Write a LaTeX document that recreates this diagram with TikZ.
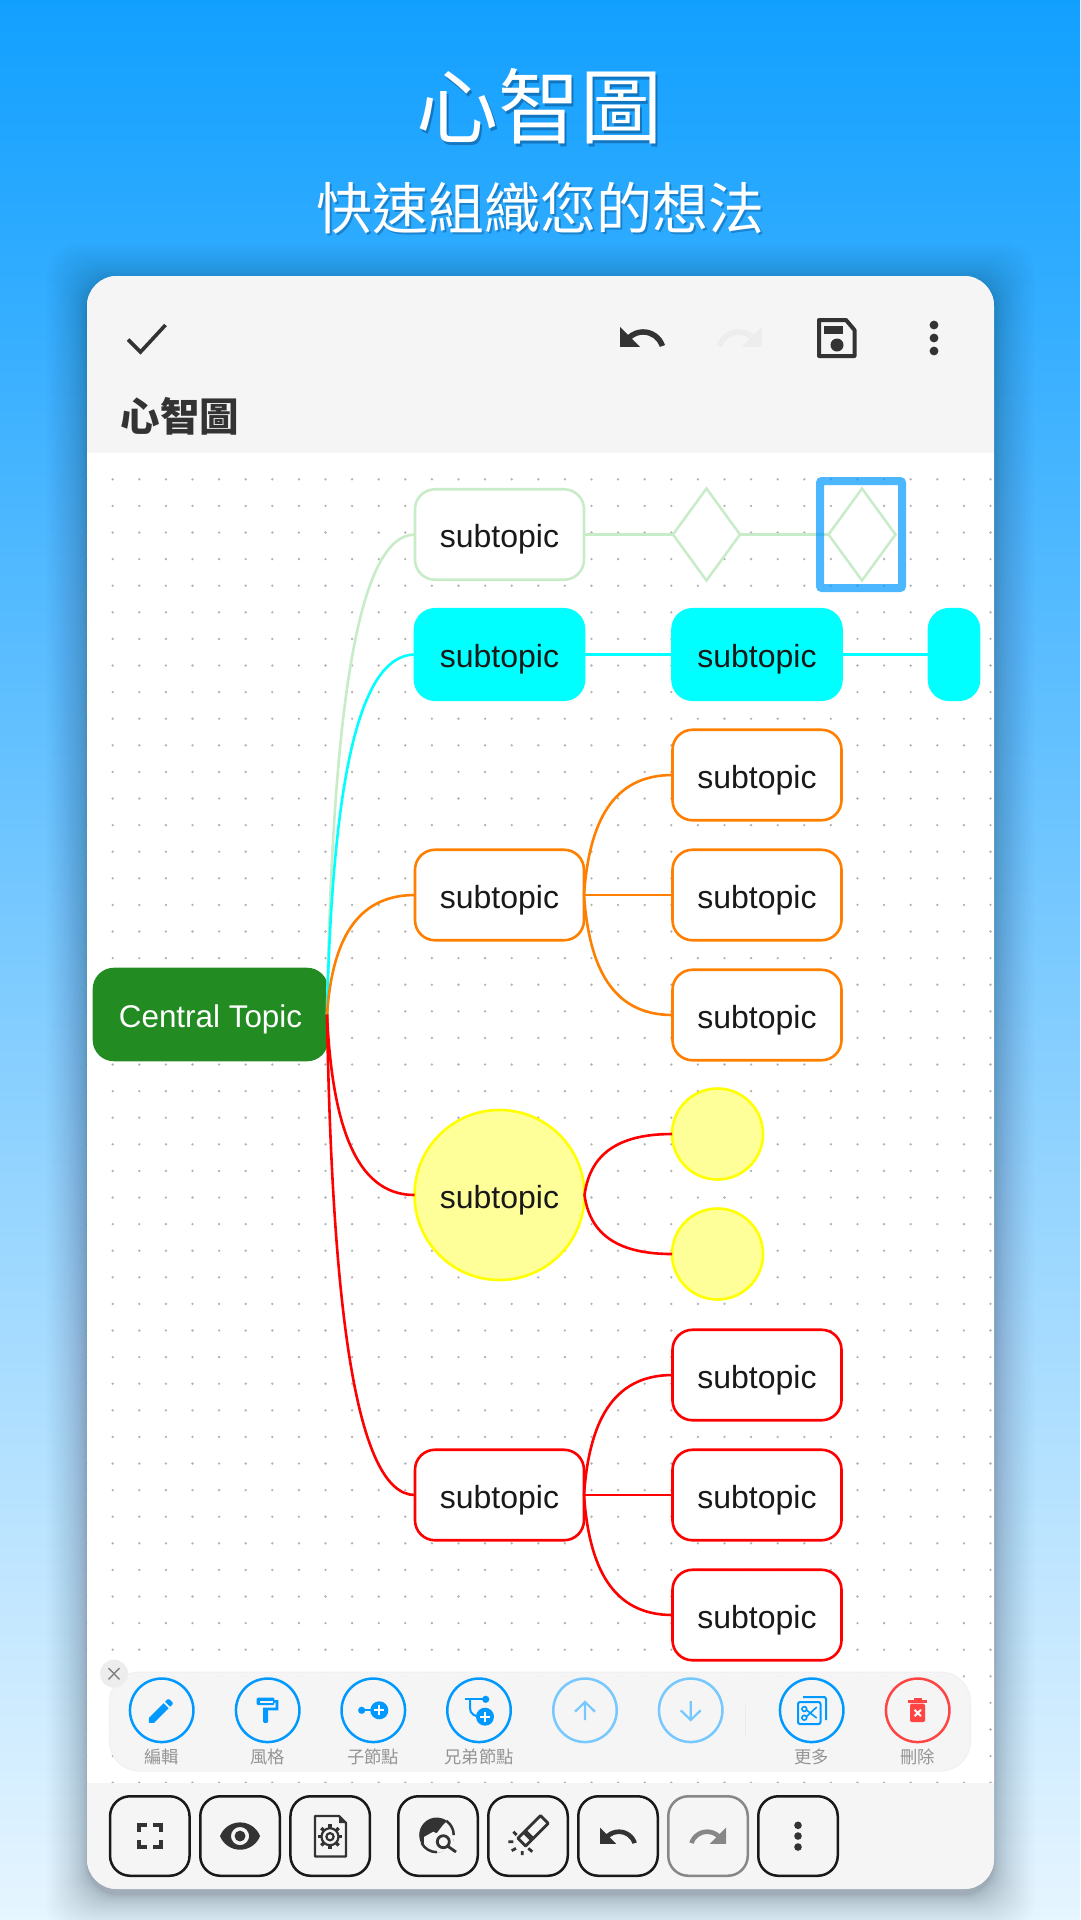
\documentclass[tikz,border=0pt]{standalone}
\usepackage{fontspec}
\setmainfont{Liberation Sans}
\newfontfamily\cjk{Noto Sans CJK TC}
\usetikzlibrary{calc,shapes.geometric,svg.path}
\definecolor{bgtop}{HTML}{12A0FF}
\definecolor{bgbot}{HTML}{E6F5FF}
\definecolor{panel}{HTML}{F5F5F5}
\definecolor{ink}{HTML}{333333}
\definecolor{blueui}{HTML}{0099FF}
\definecolor{lightui}{HTML}{77C8FF}
\definecolor{redui}{HTML}{FF4444}
\definecolor{cgreen}{HTML}{C8ECC8}
\definecolor{cforest}{HTML}{228B22}
\definecolor{corange}{HTML}{FF8000}
\definecolor{cyell}{HTML}{FFFF99}
\definecolor{ccyan}{HTML}{00FFFF}
\definecolor{cyline}{HTML}{FFFF00}
\definecolor{cred}{HTML}{FF0000}
\definecolor{tshadow}{HTML}{0B5EA0}
\tikzset{
 x=1pt,y=-1pt,
 topic/.style={draw,line width=2.6pt,fill=white,rounded corners=20pt,minimum width=169pt,minimum height=90.5pt,inner sep=0pt,outer sep=0pt,font=\fontsize{32}{36}\selectfont,text=black!90,text height=26pt,text depth=0pt},
 ball/.style={circle,draw=cyline,line width=2.6pt,fill=cyell,inner sep=0pt,outer sep=0pt,font=\fontsize{32}{36}\selectfont,text=black!90,text height=26pt,text depth=0pt},
 gem/.style={diamond,draw=cgreen,line width=2.5pt,fill=white,minimum width=67pt,minimum height=92pt,inner sep=0pt,outer sep=0pt},
 conn/.style={line width=2.6pt},
 toolring/.style={circle,draw=blueui,line width=2.5pt,minimum size=63.5pt,inner sep=0pt,outer sep=0pt},
 toollabel/.style={font=\cjk\fontsize{17.3}{19}\selectfont,text=black!42,inner sep=0pt},
 barbtn/.style={draw=black!90,line width=2.5pt,rounded corners=20pt,fill=panel,minimum size=79.5pt,inner sep=0pt,outer sep=0pt},
}
\newcommand\svgicon[5]{\begin{scope}[shift={(#1,#2)},xscale=#3,yscale=-#3]\fill[#4] svg {#5};\end{scope}}
\newcommand\linkit[3]{\draw[conn,#3] (#1.east) .. controls ($(#1.east)!0.6!(#1.east |- #2.west)+(5,0)$) and ($(#1.east |- #2.west)+(28,0)$) .. (#2.west);}
\begin{document}
\begin{tikzpicture}
\useasboundingbox (0,0) rectangle (1080,1920);
\fill[top color=bgtop,bottom color=bgbot] (0,0) rectangle (1080,1920);
% title
\node[font=\cjk\fontsize{82}{90}\selectfont,text=tshadow,opacity=.65] (titleshadow) at (541,109) {心智圖};
\node[font=\cjk\fontsize{82}{90}\selectfont,text=white] (title) at (539,106) {心智圖};
\node[font=\cjk\fontsize{56}{62}\selectfont,text=tshadow,opacity=.5] (subshadow) at (542,210) {快速組織您的想法};
\node[font=\cjk\fontsize{56}{62}\selectfont,text=white] (sub) at (540,208) {快速組織您的想法};
% card shadow
\foreach \i in {1,...,24}{
 \pgfmathsetmacro\grow{0.07*\i*\i}
 \fill[black,opacity=.012,rounded corners=32pt] (87-\grow,276+6-\grow) rectangle (994+\grow,1889+6+\grow);
}
% card
\fill[white,rounded corners=30pt] (87,276) rectangle (994,1889);
\begin{scope}
\clip[rounded corners=30pt] (87,276) rectangle (994,1889);
\fill[panel] (87,276) rectangle (994,453);
\foreach \r in {0,...,49}{
 \foreach \c in {0,...,34}{
  \fill[black!30] ({86.1+\c*26.6},{479.3+\r*26.6}) circle (1.3);
 }
}
\fill[panel] (87,1783) rectangle (994,1889);
\end{scope}
% header
\coordinate (chkA) at (128,339.5);\coordinate (chkB) at (140.5,352);\coordinate (chkC) at (165.5,325);
\draw[line width=3.6pt,ink] (chkA) -- (chkB) -- (chkC);
\svgicon{615.6}{311.6}{2.2}{ink}{M12.5 8c-2.65 0-5.05.99-6.9 2.6L2 7v9h9l-3.62-3.62c1.39-1.16 3.16-1.88 5.12-1.88 3.54 0 6.55 2.31 7.6 5.5l2.37-.78C21.08 11.03 17.15 8 12.5 8z}
\svgicon{713.3}{311.6}{2.2}{black!7}{M18.4 10.6C16.55 8.99 14.15 8 11.5 8c-4.65 0-8.58 3.03-9.96 7.22L3.9 16c1.05-3.19 4.05-5.5 7.6-5.5 1.95 0 3.73.72 5.12 1.88L13 16h9V7l-3.6 3.6z}
\draw[ink,line width=4pt,line join=round] (819,320) -- (846,320) -- (854.5,330) -- (854.5,356) -- (819,356) -- cycle;
\fill[ink] (824,325.5) rectangle (843,333.5);
\fill[ink] (837,345) circle (6.5);
\foreach \yy in {325,338,351}{\fill[ink] (934,\yy) circle (4.4);}
\node[font=\cjk\bfseries\fontsize{39.5}{42}\selectfont,text=ink] (headtitle) at (180,416) {心智圖};
% mind map nodes
\node[topic,draw=cforest,fill=cforest,text=white,minimum width=233pt,minimum height=91pt,font=\fontsize{31.4}{36}\selectfont] (central) at (210.5,1014.5) {Central Topic};
\node[topic,draw=cgreen] (t1) at (499.5,534.5) {subtopic};
\node[gem] (g1) at (706.5,534.5) {};
\node[gem] (g2) at (862,534.5) {};
\node[topic,draw=ccyan,fill=ccyan] (t2) at (499.5,654.5) {subtopic};
\node[topic,draw=ccyan,fill=ccyan] (t2a) at (757,654.5) {subtopic};
\node[topic,draw=ccyan,fill=ccyan,minimum width=50pt] (t2b) at (954,654.5) {};
\node[topic,draw=corange] (t3) at (499.5,895) {subtopic};
\node[topic,draw=corange] (t3a) at (757,775) {subtopic};
\node[topic,draw=corange] (t3b) at (757,895) {subtopic};
\node[topic,draw=corange] (t3c) at (757,1015) {subtopic};
\node[ball,minimum size=170pt] (t4) at (499.5,1195) {subtopic};
\node[ball,minimum size=91pt] (t4a) at (717.5,1134) {};
\node[ball,minimum size=91pt] (t4b) at (717.5,1254) {};
\node[topic,draw=cred] (t5) at (499.5,1495) {subtopic};
\node[topic,draw=cred] (t5a) at (757,1375) {subtopic};
\node[topic,draw=cred] (t5b) at (757,1495) {subtopic};
\node[topic,draw=cred] (t5c) at (757,1615) {subtopic};
% connectors
\linkit{central}{t1}{cgreen}
\linkit{central}{t2}{ccyan}
\linkit{central}{t3}{corange}
\linkit{central}{t4}{cred}
\linkit{central}{t5}{cred}
\draw[conn,cgreen] (t1.east) -- (g1.west);
\draw[conn,cgreen] (g1.east) -- (g2.west);
\draw[conn,ccyan] (t2.east) -- (t2a.west);
\draw[conn,ccyan] (t2a.east) -- (t2b.west);
\linkit{t3}{t3a}{corange}
\draw[conn,corange] (t3.east) -- (t3b.west);
\linkit{t3}{t3c}{corange}
\linkit{t4}{t4a}{cred}
\linkit{t4}{t4b}{cred}
\linkit{t5}{t5a}{cred}
\draw[conn,cred] (t5.east) -- (t5b.west);
\linkit{t5}{t5c}{cred}
% selection
\draw[blueui,opacity=.7,line width=8pt,rounded corners=2pt] (820,481) rectangle (902,588);
% toolbar
\fill[panel,opacity=.96,rounded corners=30pt] (109.5,1672) rectangle (970.5,1771);
\draw[black!6,line width=1pt,rounded corners=30pt] (109.5,1672) rectangle (970.5,1771);
\node[circle,fill=black!7,minimum size=28pt,inner sep=0pt] (closebtn) at (114,1673.7) {};
\draw[black!50,line width=1.4pt] (108.5,1668) -- (119.5,1679.4) (119.5,1668) -- (108.5,1679.4);
\draw[black!8,line width=1pt] (745.3,1705) -- (745.3,1737);
\node[toolring] (r1) at (161.7,1710.3) {};
\node[toolring] (r2) at (267.7,1710.3) {};
\node[toolring] (r3) at (373.3,1710.3) {};
\node[toolring] (r4) at (479,1710.3) {};
\node[toolring,draw=lightui] (r5) at (585,1710.3) {};
\node[toolring,draw=lightui] (r6) at (690.7,1710.3) {};
\node[toolring] (r7) at (811.7,1710.3) {};
\node[toolring,draw=redui] (r8) at (917.7,1710.3) {};
\node[toollabel] (l1) at (161.7,1757) {編輯};
\node[toollabel] (l2) at (267.7,1757) {風格};
\node[toollabel] (l3) at (373.3,1757) {子節點};
\node[toollabel] (l4) at (479,1757) {兄弟節點};
\node[toollabel] (l7) at (811.7,1757) {更多};
\node[toollabel] (l8) at (917.7,1757) {刪除};
% toolbar icons
\svgicon{145}{1695}{1.33}{blueui}{M3 17.25V21h3.75L17.81 9.94l-3.75-3.75L3 17.25zM20.71 7.04c.39-.39.39-1.02 0-1.41l-2.34-2.34c-.39-.39-1.02-.39-1.41 0l-1.83 1.83 3.75 3.75 1.83-1.83z}
\svgicon{251.6}{1695}{1.27}{blueui}{M18 4V3c0-.55-.45-1-1-1H5c-.55 0-1 .45-1 1v4c0 .55.45 1 1 1h12c.55 0 1-.45 1-1V6h1v4H9v11c0 .55.45 1 1 1h2c.55 0 1-.45 1-1v-9h8V4h-3z}
\fill[panel] (259.5,1700.5) rectangle (272.5,1703);
\fill[blueui] (361.7,1710.3) circle (3.6);
\draw[blueui,line width=2pt] (361.7,1710.3) -- (379,1710.3);
\fill[blueui] (379.3,1710.3) circle (9);
\draw[white,line width=2pt] (374.3,1710.3) -- (384.3,1710.3) (379.3,1705.3) -- (379.3,1715.3);
\fill[blueui] (485.7,1699.3) circle (3.6);
\draw[blueui,line width=2pt] (465,1699.3) -- (485.7,1699.3);
\draw[blueui,line width=2pt] (470,1699.3) -- (470,1708) .. controls (470,1714) and (474,1717) .. (485,1716.7);
\fill[blueui] (485,1716.7) circle (9);
\draw[white,line width=2pt] (480,1716.7) -- (490,1716.7) (485,1711.7) -- (485,1721.7);
\draw[lightui,line width=2.2pt] (585,1720) -- (585,1702) (575,1711.7) -- (585,1702) -- (595,1711.7);
\draw[lightui,line width=2.2pt] (690.7,1701) -- (690.7,1720) (680.7,1710.3) -- (690.7,1720) -- (700.7,1710.3);
\draw[blueui,line width=2pt,rounded corners=2pt] (803,1697) -- (826,1697) -- (826,1720);
\fill[panel,draw=blueui,line width=2pt,rounded corners=2pt] (798,1702) rectangle (820.5,1724);
\draw[blueui,line width=1.6pt] (804.3,1709) circle (2.4) (804.3,1717.7) circle (2.4) (806.5,1710) -- (816.7,1718) (806.5,1716.7) -- (816.7,1707);
\fill[redui] (908,1700) rectangle (926.7,1702.5);
\fill[redui] (913.5,1698) rectangle (921.5,1700.5);
\fill[redui,rounded corners=1.5pt] (910,1703.5) rectangle (925,1722);
\draw[white,line width=2pt] (914.5,1709.8) -- (920.9,1716.2) (920.9,1709.8) -- (914.5,1716.2);
% bottom bar
\node[barbtn] (b1) at (149.8,1836) {};
\node[barbtn] (b2) at (240,1836) {};
\node[barbtn] (b3) at (330.2,1836) {};
\node[barbtn] (b4) at (438,1836) {};
\node[barbtn] (b5) at (528,1836) {};
\node[barbtn] (b6) at (618,1836) {};
\node[barbtn,draw=black!47] (b7) at (708,1836) {};
\node[barbtn] (b8) at (798,1836) {};
\draw[ink,line width=3.8pt] (139,1832) -- (139,1825) -- (146.5,1825) (153,1825) -- (161,1825) -- (161,1832) (139,1840) -- (139,1847) -- (146.5,1847) (153,1847) -- (161,1847) -- (161,1840);
\svgicon{218.2}{1814.2}{1.82}{ink,even odd rule}{M12 4.5C7 4.5 2.73 7.61 1 12c1.73 4.39 6 7.5 11 7.5s9.27-3.11 11-7.5c-1.73-4.39-6-7.5-11-7.5zM12 17c-2.76 0-5-2.24-5-5s2.24-5 5-5 5 2.24 5 5-2.24 5-5 5zm0-8c-1.66 0-3 1.34-3 3s1.34 3 3 3 3-1.34 3-3-1.34-3-3-3z}
\draw[ink,line width=2.4pt,line join=round] (315,1816) -- (339,1816) -- (346,1823) -- (346,1856.5) -- (315,1856.5) -- cycle;
\fill[ink] (339,1816) -- (346,1823) -- (339,1823) -- cycle;
\draw[ink,line width=2.2pt] (330,1836.7) circle (8.5) (330,1836.7) circle (3.6);
\foreach \a in {0,45,...,315}{\draw[ink,line width=3.4pt] ($(330,1836.7)+({cos(\a)*8.5},{sin(\a)*8.5})$) -- ($(330,1836.7)+({cos(\a)*12.3},{sin(\a)*12.3})$);}
% globe with lens
\begin{scope}
\clip (436.7,1835) circle (17.5);
\fill[ink] (436.7,1835) circle (17.5);
\fill[panel] (424,1837) -- (433.3,1831.7) -- (436.7,1833.3) -- (443,1825) -- (446,1822) -- (452,1818) -- (462,1830) -- (462,1860) -- (424,1860) -- cycle;
\end{scope}
\draw[ink,line width=2.5pt] (446.5,1821) arc (-54.5:0:17.3);
\draw[ink,line width=2.5pt] (421.6,1843) arc (152:90:17.3);
\fill[panel] (443.3,1841.7) circle (10);
\draw[ink,line width=2.8pt] (443.3,1841.7) circle (6) (447.8,1846.2) -- (456,1852);
% eraser
\begin{scope}[shift={(533,1830.8)},rotate=45]
\draw[ink,line width=2.8pt,line join=round] (-16,-5.5) rectangle (16,5.5);
\fill[ink] (-9,-6) rectangle (-4,6);
\end{scope}
\draw[ink,line width=2.8pt] (513.3,1831.7) -- (516.7,1835) (508.3,1841.7) -- (513.3,1841.7) (511.7,1850.7) -- (516,1848.3) (522.3,1851) -- (522.3,1855) (528.3,1848.3) -- (532.3,1851.7);
\svgicon{596.4}{1815}{1.8}{ink}{M12.5 8c-2.65 0-5.05.99-6.9 2.6L2 7v9h9l-3.62-3.62c1.39-1.16 3.16-1.88 5.12-1.88 3.54 0 6.55 2.31 7.6 5.5l2.37-.78C21.08 11.03 17.15 8 12.5 8z}
\svgicon{686.5}{1815}{1.8}{black!47}{M18.4 10.6C16.55 8.99 14.15 8 11.5 8c-4.65 0-8.58 3.03-9.96 7.22L3.9 16c1.05-3.19 4.05-5.5 7.6-5.5 1.95 0 3.73.72 5.12 1.88L13 16h9V7l-3.6 3.6z}
\foreach \yy in {1825.3,1836,1847}{\fill[ink] (798,\yy) circle (3.8);}
\end{tikzpicture}
\end{document}
